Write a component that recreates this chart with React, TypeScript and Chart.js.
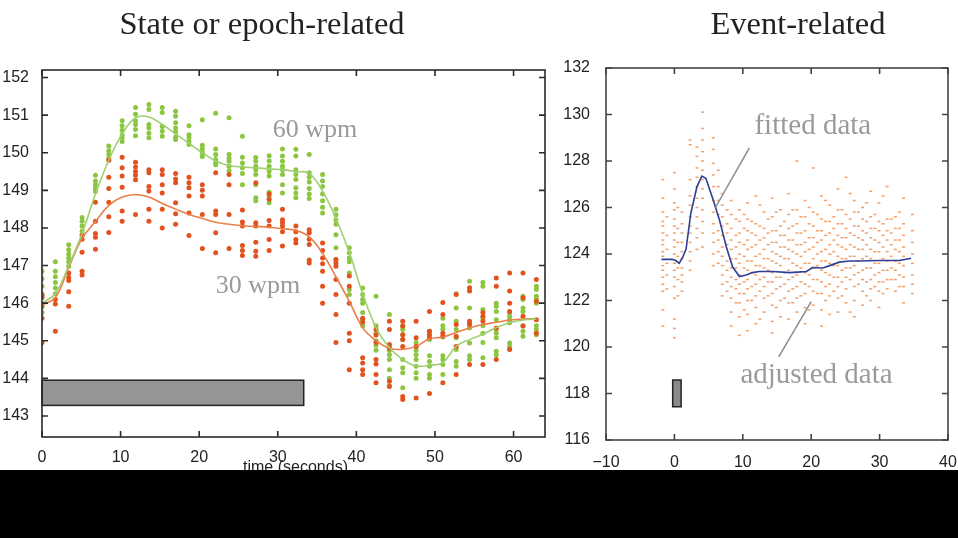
import React, { useEffect, useRef } from 'react';
import { Chart, registerables } from 'chart.js';
Chart.register(...registerables);

// ---------- Left panel: state / epoch-related ----------
const epochTimes = [0, 1.7, 3.4, 5.1, 6.8, 8.5, 10.2, 11.9, 13.6, 15.3, 17, 18.7, 20.4, 22.1, 23.8, 25.5, 27.2, 28.9, 30.6, 32.3, 34, 35.7, 37.4, 39.1, 40.8, 42.5, 44.2, 45.9, 47.6, 49.3, 51, 52.7, 54.4, 56.1, 57.8, 59.5, 61.2, 62.9];
const fit60 = [146.0, 146.25, 147.0, 147.85, 148.9, 149.8, 150.5, 150.93, 150.95, 150.75, 150.5, 150.25, 150.0, 149.78, 149.66, 149.62, 149.6, 149.57, 149.55, 149.5, 149.45, 148.98, 148.25, 147.35, 146.25, 145.35, 144.82, 144.5, 144.33, 144.35, 144.42, 144.85, 145.03, 145.17, 145.35, 145.48, 145.55, 145.58];
const fit30 = [145.95, 146.15, 146.95, 147.72, 148.17, 148.6, 148.82, 148.89, 148.82, 148.65, 148.5, 148.36, 148.25, 148.15, 148.1, 148.06, 148.04, 148.02, 147.98, 147.93, 147.76, 147.32, 146.7, 146.05, 145.35, 145.0, 144.8, 144.77, 144.85, 145.05, 145.1, 145.22, 145.34, 145.43, 145.49, 145.55, 145.58, 145.58];
const dots60 = [
  [146.85, 146.65, 146.45, 146.25, 145.9, 145.75],
  [147.1, 146.85, 146.7, 146.55, 146.4, 146.25],
  [147.55, 147.42, 147.3, 147.2, 147.1, 146.98],
  [148.28, 148.18, 148.05, 147.92, 147.82],
  [149.4, 149.25, 149.15, 149.05, 148.97],
  [150.18, 150.05, 149.95, 149.85],
  [150.85, 150.72, 150.6, 150.48, 150.4, 150.3],
  [151.2, 151.02, 150.85, 150.75, 150.62, 150.45],
  [151.28, 151.15, 150.75, 150.66, 150.52, 150.4],
  [151.2, 151.07, 150.7, 150.57, 150.44],
  [151.1, 150.97, 150.8, 150.66, 150.55, 150.42, 150.35],
  [150.72, 150.48, 150.4, 150.3, 150.22],
  [150.88, 150.2, 150.1, 150.0, 149.9],
  [151.05, 150.1, 149.95, 149.82, 149.73, 149.68],
  [150.93, 149.95, 149.85, 149.77, 149.64, 149.52],
  [150.44, 149.88, 149.73, 149.6, 149.45, 149.15],
  [149.87, 149.77, 149.64, 149.55, 149.42, 149.15, 148.8, 148.72],
  [149.92, 149.78, 149.64, 149.5, 149.38, 148.95, 148.84, 148.67],
  [150.1, 149.91, 149.77, 149.64, 149.55, 149.42, 149.15, 148.93],
  [150.09, 149.91, 149.55, 149.42, 149.29, 149.07, 148.93, 148.8],
  [149.95, 149.47, 149.35, 149.22, 149.05, 148.9, 148.78],
  [149.42, 149.25, 149.1, 148.9, 148.72, 148.55, 148.4],
  [148.5, 148.35, 148.22, 148.1, 147.82, 147.47, 147.16],
  [147.47, 147.34, 147.2, 147.1, 146.8, 146.36, 146.23],
  [146.4, 146.23, 146.1, 146.0, 145.75, 145.56, 145.4],
  [146.18, 145.4, 145.2, 145.0, 144.88, 144.75],
  [145.7, 144.85, 144.75, 144.63, 144.5, 144.23, 144.0, 143.8],
  [145.4, 145.3, 145.16, 145.03, 144.5, 144.28, 144.15, 143.75],
  [144.95, 144.85, 144.75, 144.63, 144.5, 144.32, 144.15, 144.0],
  [145.25, 145.03, 144.6, 144.45, 144.32, 144.1, 144.0],
  [145.6, 145.4, 145.3, 145.1, 144.6, 144.5, 144.37, 144.1],
  [146.25, 145.87, 145.52, 145.3, 145.08, 144.77, 144.45, 144.32],
  [146.58, 145.87, 145.45, 145.34, 144.94, 144.6, 144.5],
  [146.55, 146.45, 145.83, 145.6, 145.4, 145.2, 144.95, 144.55],
  [146.0, 145.92, 145.78, 145.56, 145.3, 145.2, 145.08, 144.72, 144.63],
  [145.75, 145.65, 145.56, 145.48, 144.94, 144.85],
  [146.18, 146.1, 145.87, 145.78, 145.4, 145.25, 145.12],
  [146.45, 146.36, 146.18, 146.1, 146.0, 145.4, 145.3, 145.16],
];
const dots30 = [
  [146.2, 146.15, 145.95, 145.6, 144.95],
  [146.1, 145.98, 145.25],
  [146.8, 146.68, 146.6, 146.3, 145.92],
  [147.8, 147.7, 147.35, 146.85, 146.75],
  [148.68, 148.18, 147.85, 147.75, 147.43],
  [149.8, 149.35, 149.05, 148.68, 148.3, 147.88],
  [149.88, 149.6, 149.38, 149.08, 148.45, 148.18],
  [149.75, 149.62, 149.5, 149.4, 149.28, 148.36],
  [149.55, 149.47, 149.1, 148.98, 148.5, 148.18],
  [149.55, 149.42, 149.15, 148.93, 148.5, 148.0],
  [149.45, 149.3, 149.2, 148.67, 148.38, 148.1],
  [149.35, 149.2, 149.07, 148.85, 148.4, 147.8],
  [149.15, 149.0, 148.85, 148.36, 147.45],
  [149.47, 148.45, 148.36, 147.87, 147.34],
  [149.42, 149.15, 148.36, 147.45],
  [148.48, 148.16, 148.05, 147.53, 147.4, 147.27],
  [149.2, 148.14, 148.05, 147.62, 147.38, 147.25],
  [148.9, 148.76, 148.2, 148.05, 147.69, 147.4],
  [148.5, 148.22, 148.14, 148.05, 147.9, 147.52],
  [148.05, 147.9, 147.69, 147.6],
  [147.95, 147.87, 147.7, 147.56, 147.15, 147.07],
  [147.6, 147.4, 147.2, 147.05, 146.85, 146.45, 146.0],
  [147.16, 147.07, 146.98, 146.63, 146.23, 145.7, 144.95],
  [146.72, 146.45, 146.0, 145.2, 145.0, 144.23],
  [145.6, 145.5, 144.55, 144.41, 144.23, 144.1],
  [145.3, 145.15, 144.95, 144.5, 144.38, 144.1, 143.88],
  [145.52, 145.3, 144.9, 144.8, 143.92, 143.78],
  [145.52, 145.39, 145.16, 145.03, 144.85, 143.52, 143.44],
  [145.52, 145.08, 144.85, 143.48],
  [145.78, 145.25, 145.16, 145.08, 143.6],
  [146.02, 145.7, 145.2, 145.12, 143.88],
  [146.23, 145.43, 145.12, 144.85, 144.1],
  [146.41, 146.32, 145.52, 145.43, 144.37],
  [145.75, 145.65, 145.52, 144.37],
  [146.67, 146.45, 145.34, 144.5],
  [146.8, 146.32, 146.0, 145.78, 144.77],
  [146.8, 146.14, 145.65, 145.39],
  [146.63, 146.05, 145.56, 145.2],
];
const leftXTicks = [0, 10, 20, 30, 40, 50, 60];
const leftYTicks = [143, 144, 145, 146, 147, 148, 149, 150, 151, 152];
const epochBlockX = [0, 33.3];
const epochBlockY = [143.28, 143.95];
const leftLabels = ['60 wpm', '30 wpm'];
const leftLabelX = [29.35, 22.1];
const leftLabelY = [150.43, 146.28];

// ---------- Right panel: event-related ----------
const evtTimes = [-1.7, 0, 1.1, 2.3, 3.3, 4.1, 5.7, 7.0, 8.3, 9.5, 10.7, 11.9, 13.1, 14.3, 15.5, 16.7, 17.9, 19.1, 20.3, 21.5, 22.7, 23.9, 25.1, 26.3, 27.5, 28.7, 29.9, 31.1, 32.3, 33.5, 34.8];
const evtDots = [
  [127.2, 126.4, 125.8, 125.4, 125.2, 124.9, 124.6, 124.4, 124.1, 123.9, 123.5, 123.3, 123.0, 122.7, 122.4, 121.6, 120.9],
  [127.5, 126.8, 126.2, 125.9, 125.5, 125.2, 124.9, 124.6, 124.3, 124.0, 123.6, 123.3, 123.0, 122.6, 122.1, 121.2, 120.8, 120.4],
  [125.8, 125.3, 124.9, 124.5, 124.1, 123.8, 123.4, 123.1, 122.8, 122.4],
  [128.9, 128.7, 127.2, 126.5, 126.1, 125.6, 125.2, 124.9, 124.5, 124.1, 123.7, 123.3],
  [128.6, 128.2, 127.7, 127.3, 126.9, 126.4, 126.0, 125.6, 125.1, 124.7, 124.2],
  [130.1, 129.4, 128.9, 128.4, 128.0, 127.6, 127.2, 126.8, 126.4, 125.9, 125.4, 124.9, 124.3],
  [129.0, 128.5, 127.9, 127.4, 126.9, 126.3, 125.8, 125.3, 124.9, 124.5, 124.0, 123.5],
  [126.6, 126.1, 125.6, 125.2, 124.8, 124.3, 123.9, 123.5, 123.1, 122.7, 122.2],
  [126.3, 125.7, 125.1, 124.6, 124.2, 123.8, 123.4, 123.0, 122.6, 122.1, 121.5, 120.9],
  [125.9, 125.4, 124.9, 124.5, 124.0, 123.6, 123.1, 122.7, 122.3, 121.9, 121.3, 120.5],
  [126.2, 125.5, 125.0, 124.6, 124.2, 123.7, 123.3, 122.9, 122.5, 122.0, 121.4, 120.7],
  [126.5, 125.3, 124.8, 124.4, 123.9, 123.5, 123.1, 122.7, 122.2, 121.7, 121.0],
  [125.8, 125.1, 124.7, 124.2, 123.8, 123.4, 123.0, 122.6, 122.1, 121.5],
  [126.4, 125.6, 125.0, 124.5, 124.1, 123.7, 123.2, 122.8, 122.3, 121.8, 121.1, 120.6],
  [125.9, 125.2, 124.8, 124.3, 123.9, 123.5, 123.0, 122.6, 122.0, 121.3],
  [126.6, 125.7, 125.1, 124.6, 124.2, 123.8, 123.3, 122.9, 122.4, 121.9, 121.2],
  [128.0, 125.9, 125.3, 124.9, 124.4, 124.0, 123.5, 123.1, 122.6, 122.1, 121.5],
  [126.3, 125.6, 125.0, 124.5, 124.1, 123.6, 123.2, 122.7, 122.3, 121.7, 121.0],
  [127.7, 125.8, 125.2, 124.7, 124.3, 123.8, 123.4, 122.9, 122.4, 121.8],
  [126.5, 125.5, 125.0, 124.6, 124.1, 123.7, 123.3, 122.8, 122.3, 121.6, 120.9],
  [126.1, 125.4, 124.9, 124.4, 124.0, 123.6, 123.1, 122.7, 122.2, 121.4],
  [126.8, 125.9, 125.3, 124.8, 124.4, 123.9, 123.5, 123.0, 122.6, 122.1, 121.5],
  [127.3, 125.7, 125.1, 124.7, 124.2, 123.8, 123.4, 123.0, 122.5, 121.9],
  [126.3, 125.8, 125.2, 124.8, 124.3, 123.9, 123.5, 123.1, 122.6, 122.0, 121.3],
  [126.0, 125.5, 125.0, 124.6, 124.2, 123.8, 123.3, 122.9, 122.4, 121.8],
  [126.7, 125.6, 125.1, 124.7, 124.2, 123.8, 123.4, 122.9, 122.5, 122.0],
  [126.2, 125.4, 125.0, 124.5, 124.1, 123.6, 123.2, 122.8, 122.4, 121.7],
  [126.9, 125.5, 125.0, 124.6, 124.1, 123.7, 123.3, 122.9, 122.5],
  [125.6, 125.1, 124.6, 124.2, 123.7, 123.3, 122.9, 122.4],
  [126.4, 125.3, 124.8, 124.3, 123.9, 123.5, 123.0, 122.6, 121.9],
  [125.7, 125.0, 124.5, 124.0, 123.6, 123.1, 122.7, 122.3],
];
const evtTimesB = [-1.1, 0.5, 6.4, 7.7, 9.0, 10.2, 11.3, 12.5, 13.7, 14.9, 16.1, 17.3, 18.5, 19.7, 20.9, 22.1, 23.3, 24.5, 25.7, 26.9, 28.1, 29.3, 30.5, 31.7, 32.9];
const evtDotsB = [
  [125.6, 124.8, 124.2, 123.6, 123.1, 122.5],
  [126.0, 125.1, 124.5, 123.9, 123.4, 122.9, 122.2],
  [127.6, 126.9, 126.3, 125.7, 125.0, 124.6, 124.1, 123.6],
  [125.9, 125.3, 124.9, 124.4, 123.7, 123.3, 122.8, 122.4],
  [125.5, 124.8, 124.3, 123.8, 123.4, 122.9, 122.5, 121.9],
  [125.7, 125.1, 124.4, 123.9, 123.4, 122.8, 122.3, 121.6],
  [125.4, 124.9, 124.3, 123.7, 123.2, 122.6, 122.0],
  [126.1, 125.2, 124.6, 124.0, 123.5, 122.9, 122.4, 121.2],
  [125.5, 124.9, 124.4, 123.8, 123.3, 122.8, 122.2],
  [125.8, 125.0, 124.5, 124.0, 123.6, 123.0, 122.5, 121.7],
  [125.4, 124.8, 124.3, 123.8, 123.2, 122.7, 122.1],
  [125.9, 125.2, 124.6, 124.1, 123.6, 123.0, 122.5, 121.9],
  [125.6, 124.9, 124.4, 123.9, 123.4, 122.8, 122.2],
  [126.0, 125.3, 124.7, 124.2, 123.6, 123.1, 122.6, 121.6],
  [125.7, 125.0, 124.5, 124.0, 123.5, 122.9, 122.3],
  [126.3, 125.4, 124.8, 124.2, 123.7, 123.2, 122.6, 122.0],
  [125.6, 125.1, 124.6, 124.1, 123.5, 123.0, 122.4],
  [125.9, 125.3, 124.7, 124.3, 123.8, 123.3, 122.8, 122.2],
  [126.6, 125.5, 124.9, 124.4, 123.9, 123.4, 122.9, 121.5],
  [125.8, 125.2, 124.7, 124.2, 123.7, 123.2, 122.7],
  [126.2, 125.4, 124.9, 124.4, 123.9, 123.4, 122.8, 122.2],
  [125.7, 125.1, 124.6, 124.1, 123.6, 123.1, 122.6],
  [126.5, 125.3, 124.8, 124.3, 123.8, 123.3, 122.8, 122.3],
  [125.5, 124.9, 124.4, 123.9, 123.4, 122.9],
  [125.8, 125.1, 124.6, 124.1, 123.6, 123.1, 122.6],
];
const fitTimes = [-1.9, -0.3, 0.2, 0.7, 1.2, 1.7, 2.4, 3.3, 4.0, 4.6, 5.7, 6.6, 7.6, 8.5, 9.5, 10.5, 11.4, 12.4, 14.4, 16.8, 18.0, 19.3, 20.2, 21.7, 22.7, 24.1, 25.6, 27.0, 30.0, 32.9, 34.6];
const fitValues = [123.77, 123.77, 123.72, 123.6, 123.85, 124.2, 125.75, 126.9, 127.35, 127.26, 126.3, 125.45, 124.3, 123.45, 123.03, 123.1, 123.2, 123.25, 123.25, 123.2, 123.22, 123.25, 123.42, 123.4, 123.5, 123.65, 123.7, 123.7, 123.72, 123.72, 123.82];
const rightXTicks = [-10, 0, 10, 20, 30, 40];
const rightYTicks = [116, 118, 120, 122, 124, 126, 128, 130, 132];
const stimBlockX = [-0.25, 0.98];
const stimBlockY = [117.43, 118.58];
const rightLabels = ['fitted data', 'adjusted data'];
const rightLabelX = [11.7, 9.65];
const rightLabelY = [129.16, 118.45];
const pointerFromX = [10.96, 20.0];
const pointerFromY = [128.56, 121.95];
const pointerToX = [6.0, 15.25];
const pointerToY = [126.0, 119.58];

const SANS = "'Liberation Sans', Arial, Helvetica, sans-serif";
const SERIF = "'Liberation Serif', 'Times New Roman', serif";

function fixedAxis(size: number, vertical: boolean, ticks: number[]) {
  return {
    afterBuildTicks: (s: any) => { s.ticks = ticks.map((v) => ({ value: v })); },
    afterFit: (s: any) => {
      if (vertical) s.width = size; else s.height = size;
      s.paddingLeft = 0; s.paddingRight = 0; s.paddingTop = 0; s.paddingBottom = 0;
    },
  };
}

function drawFrame(chart: any, xt: number[], yt: number[], color: string, lw: number, tl: number) {
  const { ctx, chartArea: a, scales } = chart;
  const x = scales.x, y = scales.y;
  ctx.save();
  ctx.strokeStyle = color;
  ctx.lineWidth = lw;
  ctx.beginPath();
  xt.forEach((v) => {
    const px = x.getPixelForValue(v);
    ctx.moveTo(px, a.bottom); ctx.lineTo(px, a.bottom - tl);
    ctx.moveTo(px, a.top); ctx.lineTo(px, a.top + tl);
  });
  yt.forEach((v) => {
    const py = y.getPixelForValue(v);
    ctx.moveTo(a.left, py); ctx.lineTo(a.left + tl, py);
    ctx.moveTo(a.right, py); ctx.lineTo(a.right - tl, py);
  });
  ctx.stroke();
  ctx.strokeRect(a.left, a.top, a.right - a.left, a.bottom - a.top);
  ctx.restore();
}

function drawBlock(chart: any, bx: number[], by: number[], fill: string) {
  const { ctx, scales } = chart;
  const x0 = scales.x.getPixelForValue(bx[0]);
  const x1 = scales.x.getPixelForValue(bx[1]);
  const y0 = scales.y.getPixelForValue(by[1]);
  const y1 = scales.y.getPixelForValue(by[0]);
  ctx.save();
  ctx.fillStyle = fill;
  ctx.fillRect(x0, y0, x1 - x0, y1 - y0);
  ctx.strokeStyle = '#222';
  ctx.lineWidth = 1.5;
  ctx.strokeRect(x0, y0, x1 - x0, y1 - y0);
  ctx.restore();
}

function drawLabels(chart: any, texts: string[], xs: number[], ys: number[], font: string, color: string) {
  const { ctx, scales } = chart;
  ctx.save();
  ctx.font = font;
  ctx.fillStyle = color;
  ctx.textAlign = 'left';
  ctx.textBaseline = 'alphabetic';
  texts.forEach((t, i) => ctx.fillText(t, scales.x.getPixelForValue(xs[i]), scales.y.getPixelForValue(ys[i])));
  ctx.restore();
}

const leftDecor = {
  id: 'leftDecor',
  afterDatasetsDraw(chart: any) {
    drawBlock(chart, epochBlockX, epochBlockY, '#959595');
    drawFrame(chart, leftXTicks, leftYTicks, '#2a2a2a', 1.6, 6);
    drawLabels(chart, leftLabels, leftLabelX, leftLabelY, `26px ${SERIF}`, '#9a9a9a');
    const { ctx, chartArea: a } = chart;
    ctx.save();
    ctx.fillStyle = '#222';
    ctx.font = `32.5px ${SERIF}`;
    ctx.textAlign = 'center';
    ctx.fillText('State or epoch-related', 262, 34);
    ctx.font = `16px ${SANS}`;
    ctx.fillText('time (seconds)', (a.left + a.right) / 2 + 2, 472);
    ctx.restore();
  },
};

const rightDecor = {
  id: 'rightDecor',
  afterDatasetsDraw(chart: any) {
    drawBlock(chart, stimBlockX, stimBlockY, '#8a8a8a');
    drawFrame(chart, rightXTicks, rightYTicks, '#444', 1.6, 6);
    const { ctx, scales } = chart;
    ctx.save();
    ctx.strokeStyle = '#8c8c8c';
    ctx.lineWidth = 1.5;
    ctx.beginPath();
    pointerFromX.forEach((v, i) => {
      ctx.moveTo(scales.x.getPixelForValue(v), scales.y.getPixelForValue(pointerFromY[i]));
      ctx.lineTo(scales.x.getPixelForValue(pointerToX[i]), scales.y.getPixelForValue(pointerToY[i]));
    });
    ctx.stroke();
    ctx.restore();
    drawLabels(chart, rightLabels, rightLabelX, rightLabelY, `29px ${SERIF}`, '#9a9a9a');
    ctx.save();
    ctx.fillStyle = '#222';
    ctx.font = `32.5px ${SERIF}`;
    ctx.textAlign = 'center';
    ctx.fillText('Event-related', 798 - 560, 34);
    ctx.restore();
  },
};

const tickFont = { family: SANS, size: 16 };

function leftConfig(): any {
  const g = epochTimes.flatMap((t, i) => dots60[i].map((v) => ({ x: t, y: v })));
  const r = epochTimes.flatMap((t, i) => dots30[i].map((v) => ({ x: t, y: v })));
  return {
    type: 'scatter',
    data: {
      datasets: [
        { type: 'line', data: epochTimes.map((t, i) => ({ x: t, y: fit60[i] })), borderColor: '#9fd070', borderWidth: 1.6, pointRadius: 0, tension: 0.4, order: 0 },
        { type: 'line', data: epochTimes.map((t, i) => ({ x: t, y: fit30[i] })), borderColor: '#e9804a', borderWidth: 1.6, pointRadius: 0, tension: 0.4, order: 0 },
        { data: g, pointRadius: 2.5, backgroundColor: '#8cc640', borderWidth: 0, order: 2 },
        { data: r, pointRadius: 2.5, backgroundColor: '#e2521f', borderWidth: 0, order: 1 },
      ],
    },
    options: {
      animation: false,
      responsive: false,
      maintainAspectRatio: false,
      layout: { padding: { left: 0, top: 70, right: 15, bottom: 0 } },
      plugins: { legend: { display: false }, tooltip: { enabled: false } },
      scales: {
        x: {
          type: 'linear', min: 0, max: 64,
          grid: { display: false }, border: { display: false },
          ticks: { font: tickFont, color: '#222', padding: 3, maxRotation: 0, autoSkip: false },
          ...fixedAxis(33, false, leftXTicks),
        },
        y: {
          type: 'linear', min: 142.44, max: 152.2,
          grid: { display: false }, border: { display: false },
          ticks: { font: tickFont, color: '#222', padding: 5, autoSkip: false },
          ...fixedAxis(42, true, leftYTicks),
        },
      },
    },
    plugins: [leftDecor],
  };
}

function rightConfig(): any {
  const d = evtTimes.flatMap((t, i) => evtDots[i].map((v) => ({ x: t, y: v })));
  const d2 = evtTimesB.flatMap((t, i) => evtDotsB[i].map((v) => ({ x: t, y: v })));
  const dotStyle = { pointStyle: 'line', pointRadius: 1.5, borderWidth: 1.5, borderColor: 'rgba(238,138,70,0.8)', backgroundColor: 'rgba(238,138,70,0.8)', order: 1 };
  return {
    type: 'scatter',
    data: {
      datasets: [
        { type: 'line', data: fitTimes.map((t, i) => ({ x: t, y: fitValues[i] })), borderColor: '#2c3f94', borderWidth: 1.6, pointRadius: 0, tension: 0, order: 0 },
        { data: d, ...dotStyle },
        { data: d2, ...dotStyle },
      ],
    },
    options: {
      animation: false,
      responsive: false,
      maintainAspectRatio: false,
      layout: { padding: { left: 0, top: 68, right: 10, bottom: 0 } },
      plugins: { legend: { display: false }, tooltip: { enabled: false } },
      scales: {
        x: {
          type: 'linear', min: -10, max: 40,
          grid: { display: false }, border: { display: false },
          ticks: { font: tickFont, color: '#222', padding: 5, maxRotation: 0, autoSkip: false, callback: (v: number) => (v < 0 ? '\u2212' + Math.abs(v) : String(v)) },
          ...fixedAxis(30, false, rightXTicks),
        },
        y: {
          type: 'linear', min: 116, max: 132,
          grid: { display: false }, border: { display: false },
          ticks: { font: tickFont, color: '#222', padding: 8, autoSkip: false },
          ...fixedAxis(46, true, rightYTicks),
        },
      },
    },
    plugins: [rightDecor],
  };
}

export default function App() {
  const leftRef = useRef<HTMLCanvasElement>(null);
  const rightRef = useRef<HTMLCanvasElement>(null);
  useEffect(() => {
    const c1 = new Chart(leftRef.current as HTMLCanvasElement, leftConfig());
    const c2 = new Chart(rightRef.current as HTMLCanvasElement, rightConfig());
    return () => { c1.destroy(); c2.destroy(); };
  }, []);
  return (
    <div style={{ position: 'fixed', left: 0, top: 0, width: 958, height: 538, background: '#fff', overflow: 'hidden' }}>
      <canvas ref={leftRef} width={560} height={470} style={{ position: 'absolute', left: 0, top: 0, width: 560, height: 470 }} />
      <canvas ref={rightRef} width={398} height={470} style={{ position: 'absolute', left: 560, top: 0, width: 398, height: 470 }} />
      <div style={{ position: 'absolute', left: 0, top: 470, width: 958, height: 68, background: '#000' }} />
    </div>
  );
}
